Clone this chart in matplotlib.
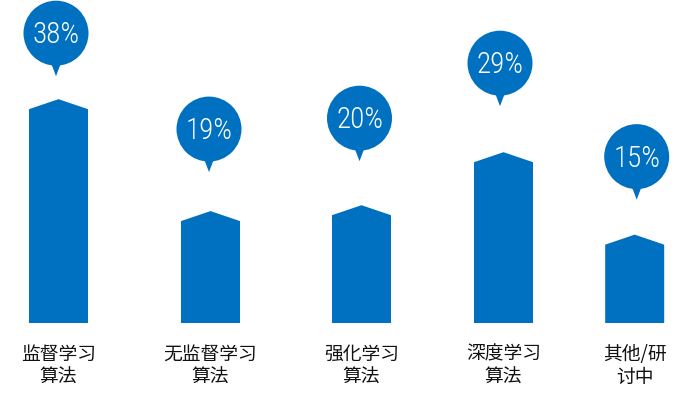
import matplotlib
matplotlib.use("Agg")
import matplotlib.pyplot as plt
from matplotlib.patches import Polygon, Circle
from matplotlib.transforms import Affine2D, ScaledTranslation

# ---- data ----
categories = ["监督学习\n算法", "无监督学习\n算法", "强化学习\n算法", "深度学习\n算法", "其他/研\n讨中"]
values = [38, 19, 20, 29, 15]
value_labels = [f"{v}%" for v in values]

# ---- layout / style ----
x_pos = [58.5, 210.5, 361.5, 503.5, 634.7]      # bar centres on a pixel-like x axis
bubble_dx = [-2.5, -1.5, -2.0, -3.5, 2.0]       # bubble horizontal shift (px)
bubble_gap = [23, 39, 44, 46, 35]               # px between bar peak and bubble tip
BLUE = "#0070C0"
W, H = 680, 400
PX_PER_UNIT = 5.89
BASE_PX = 323
BAR_W = 59
SHOULDER_PX = 10
R = 32.5            # bubble radius px
C_OFF = 43          # tip -> circle centre px

fig = plt.figure(figsize=(6.8, 4.0), dpi=100)
ax = fig.add_axes([0, 0, 1, 1])
ax.set_xlim(0, W)
ax.set_ylim(-(H - BASE_PX) / PX_PER_UNIT, BASE_PX / PX_PER_UNIT)
ax.axis("off")

shoulder = SHOULDER_PX / PX_PER_UNIT
for x, v, dx, gap, lab, cat in zip(x_pos, values, bubble_dx, bubble_gap, value_labels, categories):
    hw = BAR_W / 2
    ax.add_patch(Polygon([(x - hw, 0), (x - hw, v - shoulder), (x, v),
                          (x + hw, v - shoulder), (x + hw, 0)],
                         closed=True, facecolor=BLUE, edgecolor="none"))
    bx = x + dx
    tr = Affine2D().translate(0, gap) + ScaledTranslation(bx, v, ax.transData)
    ax.add_patch(Circle((0, C_OFF), R, transform=tr, facecolor=BLUE, edgecolor="none"))
    ax.add_patch(Polygon([(-5.5, C_OFF - R + 4), (0, 0), (5.5, C_OFF - R + 4)],
                         closed=True, transform=tr, facecolor=BLUE, edgecolor="none"))
    ax.annotate(lab, xy=(bx, v), xytext=(0, gap + C_OFF - 10.3), textcoords="offset pixels",
                ha="center", va="baseline", color="white", fontsize=21,
                family="Roboto Condensed", fontweight="light")
    ax.annotate(cat, xy=(x, 0), xytext=(0, -(366 - BASE_PX)), textcoords="offset pixels",
                ha="center", va="center", multialignment="center", fontsize=13.5,
                family=["Noto Sans CJK JP", "DejaVu Sans"], color="#111111", linespacing=1.15)

fig.savefig("out.png", dpi=100)
